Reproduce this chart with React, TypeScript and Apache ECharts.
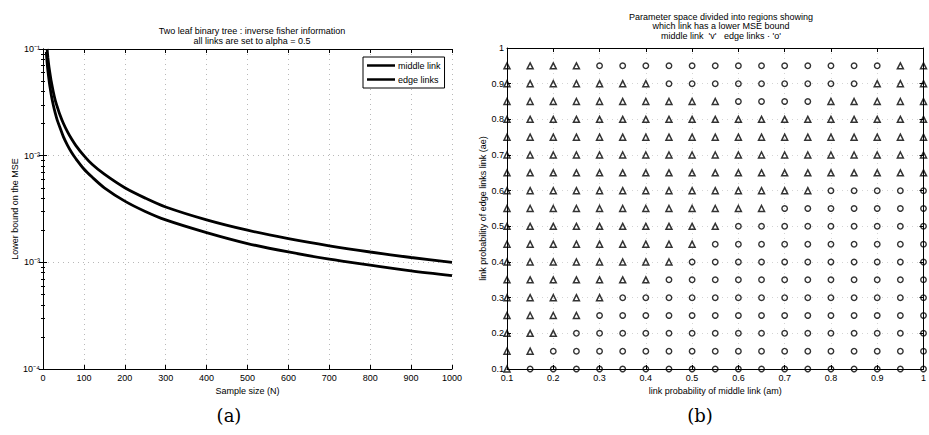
import React, { useEffect, useRef } from "react";
import * as echarts from "echarts";

// ---------- Panel (a): inverse Fisher information vs sample size ----------
const N_MIDDLE = [10, 12, 14, 16, 18, 20, 25, 30, 35, 40, 50, 60, 70, 80, 100, 120, 150, 200, 250, 300, 400, 500, 600, 700, 800, 900, 1000];
const MSE_MIDDLE = [0.1, 0.083, 0.071, 0.0625, 0.056, 0.05, 0.04, 0.033, 0.0286, 0.025, 0.02, 0.0167, 0.0143, 0.0125, 0.01, 0.0083, 0.0067, 0.005, 0.004, 0.0033, 0.0025, 0.002, 0.00167, 0.00143, 0.00125, 0.00111, 0.001];
const N_EDGE = [8, 10, 12, 14, 16, 18, 20, 25, 30, 35, 40, 50, 60, 70, 80, 100, 120, 150, 200, 250, 300, 400, 500, 600, 700, 800, 900, 1000];
const MSE_EDGE = [0.094, 0.075, 0.0625, 0.054, 0.047, 0.042, 0.0375, 0.03, 0.025, 0.0214, 0.019, 0.015, 0.0125, 0.0107, 0.0094, 0.0075, 0.0063, 0.005, 0.00375, 0.003, 0.0025, 0.0019, 0.0015, 0.00125, 0.00107, 0.00094, 0.00083, 0.00075];
const SERIES_NAMES = ["middle link", "edge links"];
const LOG_TICK_LABELS: Record<string, string> = {
  "-1": "10\u207b\u00b9",
  "-2": "10\u207b\u00b2",
  "-3": "10\u207b\u00b3",
  "-4": "10\u207b\u2074",
};

// ---------- Panel (b): which link has lower MSE bound ----------
const AM_VALUES = [0.1, 0.15, 0.2, 0.25, 0.3, 0.35, 0.4, 0.45, 0.5, 0.55, 0.6, 0.65, 0.7, 0.75, 0.8, 0.85, 0.9, 0.95, 1.0];
const AE_VALUES = [0.95, 0.9, 0.85, 0.8, 0.75, 0.7, 0.65, 0.6, 0.55, 0.5, 0.45, 0.4, 0.35, 0.3, 0.25, 0.2, 0.15, 0.1];
// one string per AE row (top to bottom), one char per AM column: v = middle link lower, o = edge links lower
const REGION_ROWS = [
  "vvvvooooooooooooovv",
  "vvvvvvvooooooooovvv",
  "vvvvvvvvvvoooovvvvv",
  "vvvvvvvvvvvvvvvvvvv",
  "vvvvvvvvvvvvvvvvvvv",
  "vvvvvvvvvvvvvvvvvvv",
  "vvvvvvvvvvvvvvvvvvv",
  "vvvvvvvvvvvvvvooooo",
  "vvvvvvvvvvvvooooooo",
  "vvvvvvvvvvooooooooo",
  "vvvvvvvvvoooooooooo",
  "vvvvvvvvooooooooooo",
  "vvvvvvvoooooooooooo",
  "vvvvvoooooooooooooo",
  "vvvvooooooooooooooo",
  "vvvoooooooooooooooo",
  "vvooooooooooooooooo",
  "voooooooooooooooooo",
];

const TITLE_A = "Two leaf binary tree : inverse fisher information\nall links are set to alpha = 0.5";
const TITLE_B = "Parameter space divided into regions showing\nwhich link has a lower MSE bound\nmiddle link  'v'   edge links \u00b7 'o'";

const FONT = "Liberation Sans, Arial, sans-serif";
const SERIF = "DejaVu Serif, Liberation Serif, serif";

export default function App() {
  const ref = useRef<HTMLDivElement>(null);

  useEffect(() => {
    if (!ref.current) return;
    const chart = echarts.init(ref.current, null, { renderer: "svg" });

    const tri: number[][] = [];
    const circ: number[][] = [];
    REGION_ROWS.forEach((row, i) => {
      for (let j = 0; j < AM_VALUES.length; j++) {
        const p = [AM_VALUES[j], AE_VALUES[i]];
        if (row[j] === "v") tri.push(p);
        else circ.push(p);
      }
    });

    const black = "#000";
    const tickStyle = { show: true, inside: true, length: 4, lineStyle: { color: black, width: 1 } };
    const lineStyle = { show: true, lineStyle: { color: black, width: 1 } };
    const labelBase = { fontSize: 9, color: black, fontFamily: FONT };

    const grid0 = { left: 43, top: 49, width: 409, height: 320, show: false };
    const grid1 = { left: 507, top: 48, width: 418, height: 321, show: false };

    const fmt1 = (v: number) => String(Math.round(v * 10) / 10);

    chart.setOption({
      animation: false,
      backgroundColor: "#fff",
      title: [
        {
          text: TITLE_A,
          left: 247,
          top: 21,
          textAlign: "center",
          textStyle: { fontSize: 9, fontWeight: "normal", color: black, fontFamily: FONT, lineHeight: 10 },
        },
        {
          text: TITLE_B,
          left: 716,
          top: 7,
          textAlign: "center",
          textStyle: { fontSize: 9, fontWeight: "normal", color: black, fontFamily: FONT, lineHeight: 9.5 },
        },
      ],
      legend: {
        data: SERIES_NAMES,
        orient: "vertical",
        left: 363,
        top: 57,
        icon: "rect",
        itemWidth: 28,
        itemHeight: 2.5,
        itemGap: 5,
        padding: [4, 4, 4, 4],
        borderColor: black,
        borderWidth: 1,
        backgroundColor: "#fff",
        itemStyle: { color: black },
        textStyle: { ...labelBase, padding: [0, 0, 0, -2] },
      },
      grid: [grid0, grid1],
      xAxis: [
        {
          gridIndex: 0,
          type: "value",
          min: 0,
          max: 1000,
          interval: 100,
          position: "bottom",
          axisLine: lineStyle,
          axisTick: tickStyle,
          axisLabel: { ...labelBase, margin: 4, formatter: (v: number) => String(v) },
          splitLine: { show: true, lineStyle: { color: "#b8b8b8", type: [1, 4], width: 1 } },
          name: "Sample size (N)",
          nameLocation: "middle",
          nameGap: 15,
          nameTextStyle: { ...labelBase, verticalAlign: "top" },
        },
        {
          gridIndex: 0,
          type: "value",
          min: 0,
          max: 1000,
          interval: 100,
          position: "top",
          axisLine: lineStyle,
          axisTick: tickStyle,
          axisLabel: { show: false },
          splitLine: { show: false },
        },
        {
          gridIndex: 1,
          type: "value",
          min: 0.1,
          max: 1,
          interval: 0.1,
          position: "bottom",
          axisLine: lineStyle,
          axisTick: tickStyle,
          axisLabel: { ...labelBase, margin: 4, formatter: fmt1 },
          splitLine: { show: true, lineStyle: { color: "#d4d4d4", type: [1, 4], width: 1 } },
          name: "link probability of middle link (am)",
          nameLocation: "middle",
          nameGap: 16,
          nameTextStyle: { ...labelBase, verticalAlign: "top" },
        },
        {
          gridIndex: 1,
          type: "value",
          min: 0.1,
          max: 1,
          interval: 0.1,
          position: "top",
          axisLine: lineStyle,
          axisTick: tickStyle,
          axisLabel: { show: false },
          splitLine: { show: false },
        },
      ],
      yAxis: [
        {
          gridIndex: 0,
          type: "log",
          logBase: 10,
          min: 0.0001,
          max: 0.1,
          position: "left",
          axisLine: lineStyle,
          axisTick: tickStyle,
          minorTick: { show: true, splitNumber: 9, length: 2, lineStyle: { color: black } },
          axisLabel: {
            ...labelBase,
            margin: 3,
            formatter: (v: number) => LOG_TICK_LABELS[String(Math.round(Math.log10(v)))] || "",
          },
          splitLine: { show: true, lineStyle: { color: "#b8b8b8", type: [1, 4], width: 1 } },
          name: "Lower bound on the MSE",
          nameLocation: "middle",
          nameGap: 21,
          nameTextStyle: { ...labelBase },
        },
        {
          gridIndex: 0,
          type: "log",
          logBase: 10,
          min: 0.0001,
          max: 0.1,
          position: "right",
          axisLine: lineStyle,
          axisTick: tickStyle,
          minorTick: { show: true, splitNumber: 9, length: 2, lineStyle: { color: black } },
          axisLabel: { show: false },
          splitLine: { show: false },
        },
        {
          gridIndex: 1,
          type: "value",
          min: 0.1,
          max: 1,
          interval: 0.1,
          position: "left",
          axisLine: lineStyle,
          axisTick: tickStyle,
          axisLabel: { ...labelBase, margin: 3, formatter: fmt1 },
          splitLine: { show: true, lineStyle: { color: "#d4d4d4", type: [1, 4], width: 1 } },
          name: "link probability of edge links link (ae)",
          nameLocation: "middle",
          nameGap: 17,
          nameTextStyle: { ...labelBase },
        },
        {
          gridIndex: 1,
          type: "value",
          min: 0.1,
          max: 1,
          interval: 0.1,
          position: "right",
          axisLine: lineStyle,
          axisTick: tickStyle,
          axisLabel: { show: false },
          splitLine: { show: false },
        },
      ],
      series: [
        {
          name: SERIES_NAMES[0],
          type: "line",
          xAxisIndex: 0,
          yAxisIndex: 0,
          symbol: "none",
          smooth: 0.3,
          clip: true,
          lineStyle: { color: black, width: 2.8 },
          itemStyle: { color: black },
          data: N_MIDDLE.map((n, i) => [n, MSE_MIDDLE[i]]),
        },
        {
          name: SERIES_NAMES[1],
          type: "line",
          xAxisIndex: 0,
          yAxisIndex: 0,
          symbol: "none",
          smooth: 0.3,
          clip: true,
          lineStyle: { color: black, width: 2.8 },
          itemStyle: { color: black },
          data: N_EDGE.map((n, i) => [n, MSE_EDGE[i]]),
        },
        {
          name: "middle link lower",
          type: "scatter",
          xAxisIndex: 2,
          yAxisIndex: 2,
          symbol: "triangle",
          symbolSize: 6,
          clip: false,
          itemStyle: { color: "rgba(255,255,255,0)", borderColor: black, borderWidth: 1.5 },
          data: tri,
          z: 5,
        },
        {
          name: "edge links lower",
          type: "scatter",
          xAxisIndex: 2,
          yAxisIndex: 2,
          symbol: "circle",
          symbolSize: 5.5,
          clip: false,
          itemStyle: { color: "rgba(255,255,255,0)", borderColor: black, borderWidth: 1.4 },
          data: circ,
          z: 5,
        },
      ],
      graphic: [
        {
          type: "text",
          x: 229,
          y: 415,
          style: { text: "(a)", fontSize: 18, fontFamily: SERIF, fill: black, align: "center", verticalAlign: "middle" },
        },
        {
          type: "text",
          x: 700,
          y: 415,
          style: { text: "(b)", fontSize: 18, fontFamily: SERIF, fill: black, align: "center", verticalAlign: "middle" },
        },
      ],
    });

    return () => chart.dispose();
  }, []);

  return (
    <div
      ref={ref}
      style={{ position: "fixed", left: 0, top: 0, width: 929, height: 435, background: "#fff" }}
    />
  );
}
